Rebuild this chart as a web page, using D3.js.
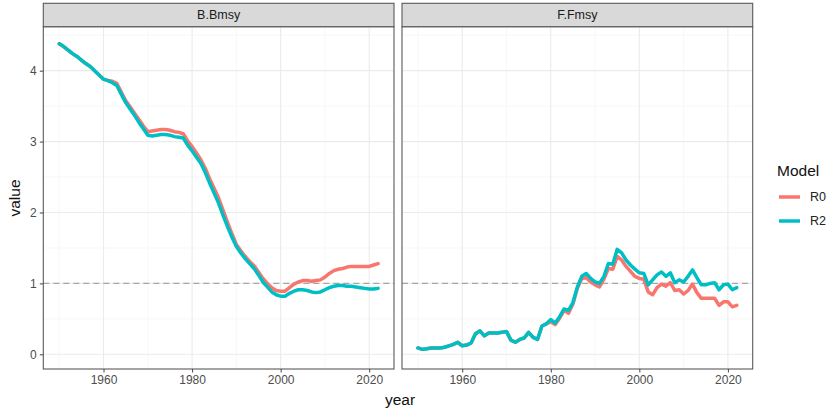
<!DOCTYPE html>
<html>
<head>
<meta charset="utf-8">
<script src="https://cdn.jsdelivr.net/npm/d3@7"></script>
<style>
  html, body { margin: 0; padding: 0; background: #fff; }
  svg { display: block; font-family: "Liberation Sans", Arial, sans-serif; }
</style>
</head>
<body>
<svg id="chart" width="830" height="412"></svg>
<script>
// ---- data -------------------------------------------------------------
const years = d3.range(1950, 2023);
const panels = ["B.Bmsy", "F.Fmsy"];
const models = ["R0", "R2"];
const modelColors = ["#F8766D", "#00BFC4"];
const xTicks = [1960, 1980, 2000, 2020];
const yTicks = [0, 1, 2, 3, 4];
const refLine = 1;

const bBmsyR0 = [
  4.38, 4.34, 4.29, 4.24, 4.20, 4.15, 4.10, 4.06, 4.00, 3.94,
  3.88, 3.86, 3.85, 3.82, 3.70, 3.58, 3.49, 3.40, 3.31, 3.22,
  3.14, 3.15, 3.16, 3.17, 3.17, 3.16, 3.14, 3.13, 3.11, 3.01,
  2.93, 2.84, 2.74, 2.62, 2.47, 2.34, 2.20, 2.03, 1.86, 1.70,
  1.55, 1.46, 1.38, 1.31, 1.25, 1.16, 1.07, 1.00, 0.94, 0.90,
  0.89, 0.89, 0.94, 0.99, 1.02, 1.04, 1.04, 1.03, 1.04, 1.05,
  1.09, 1.14, 1.18, 1.20, 1.21, 1.23, 1.24, 1.24, 1.24, 1.24,
  1.24, 1.26, 1.28
];
const bBmsyR2 = [
  4.38, 4.34, 4.29, 4.24, 4.20, 4.15, 4.10, 4.06, 4.00, 3.94,
  3.88, 3.86, 3.83, 3.79, 3.67, 3.55, 3.46, 3.37, 3.27, 3.18,
  3.09, 3.08, 3.09, 3.10, 3.10, 3.09, 3.07, 3.06, 3.05, 2.95,
  2.87, 2.78, 2.69, 2.56, 2.41, 2.27, 2.13, 1.96, 1.80, 1.65,
  1.52, 1.43, 1.35, 1.28, 1.21, 1.12, 1.02, 0.95, 0.88, 0.84,
  0.82, 0.82, 0.86, 0.89, 0.91, 0.91, 0.90, 0.88, 0.87, 0.88,
  0.91, 0.94, 0.96, 0.97, 0.97, 0.96, 0.96, 0.95, 0.94, 0.93,
  0.92, 0.92, 0.93
];
const fFmsyR0 = [
  0.09, 0.07, 0.08, 0.09, 0.09, 0.09, 0.10, 0.12, 0.14, 0.17,
  0.12, 0.13, 0.16, 0.29, 0.33, 0.26, 0.30, 0.30, 0.30, 0.31,
  0.32, 0.20, 0.17, 0.21, 0.23, 0.31, 0.24, 0.21, 0.40, 0.43,
  0.46, 0.42, 0.51, 0.62, 0.58, 0.71, 0.93, 1.07, 1.08, 1.02,
  0.98, 0.95, 1.06, 1.21, 1.20, 1.38, 1.33, 1.24, 1.17, 1.10,
  1.07, 1.06, 0.88, 0.84, 0.94, 0.99, 0.96, 1.01, 0.90, 0.91,
  0.85, 0.90, 0.99, 0.87, 0.79, 0.79, 0.79, 0.79, 0.69, 0.74,
  0.74, 0.67, 0.69
];
const fFmsyR2 = [
  0.09, 0.07, 0.08, 0.09, 0.09, 0.09, 0.10, 0.12, 0.14, 0.17,
  0.12, 0.13, 0.16, 0.29, 0.33, 0.26, 0.30, 0.30, 0.30, 0.31,
  0.32, 0.20, 0.17, 0.21, 0.23, 0.31, 0.24, 0.21, 0.40, 0.43,
  0.49, 0.44, 0.53, 0.64, 0.62, 0.73, 0.95, 1.10, 1.14, 1.07,
  1.02, 1.00, 1.10, 1.28, 1.27, 1.48, 1.43, 1.33, 1.26, 1.20,
  1.15, 1.14, 0.98, 1.05, 1.12, 1.16, 1.10, 1.15, 1.01, 1.05,
  1.02, 1.10, 1.19, 1.08, 0.98, 0.98, 1.00, 1.01, 0.91, 0.98,
  0.99, 0.91, 0.94
];
const panelSeries = [[bBmsyR0, bBmsyR2], [fFmsyR0, fFmsyR2]];

// ---- layout -----------------------------------------------------------
const svg = d3.select("#chart");
const panelLeft = [43.3, 402];
const panelWidth = 350.7;
const stripTop = 3.3, stripBottom = 26.7, plotBottom = 369;

const y = d3.scaleLinear().domain([-0.207, 4.62]).range([plotBottom, stripBottom]);
const yMinor = [0.5, 1.5, 2.5, 3.5, 4.5];
const xMinor = [1950, 1970, 1990, 2010];

panels.forEach((name, p) => {
  const x0 = panelLeft[p];
  const x = d3.scaleLinear().domain([1946.4, 2025.6]).range([x0, x0 + panelWidth]);
  const g = svg.append("g");

  // grid
  g.selectAll(".ymin").data(yMinor).join("line")
    .attr("x1", x0).attr("x2", x0 + panelWidth)
    .attr("y1", d => y(d)).attr("y2", d => y(d))
    .attr("stroke", "#f2f2f2").attr("stroke-width", 0.6);
  g.selectAll(".xmin").data(xMinor).join("line")
    .attr("x1", d => x(d)).attr("x2", d => x(d))
    .attr("y1", stripBottom).attr("y2", plotBottom)
    .attr("stroke", "#f2f2f2").attr("stroke-width", 0.6);
  g.selectAll(".ymaj").data(yTicks).join("line")
    .attr("x1", x0).attr("x2", x0 + panelWidth)
    .attr("y1", d => y(d)).attr("y2", d => y(d))
    .attr("stroke", "#ebebeb").attr("stroke-width", 1.1);
  g.selectAll(".xmaj").data(xTicks).join("line")
    .attr("x1", d => x(d)).attr("x2", d => x(d))
    .attr("y1", stripBottom).attr("y2", plotBottom)
    .attr("stroke", "#ebebeb").attr("stroke-width", 1.1);

  // reference line
  g.append("line")
    .attr("x1", x0).attr("x2", x0 + panelWidth)
    .attr("y1", y(refLine)).attr("y2", y(refLine))
    .attr("stroke", "#a6a6a6").attr("stroke-width", 1.1)
    .attr("stroke-dasharray", "6,4");

  // series
  const line = d3.line().x((d, i) => x(years[i])).y(d => y(d));
  panelSeries[p].forEach((vals, m) => {
    g.append("path").attr("d", line(vals))
      .attr("fill", "none").attr("stroke", modelColors[m])
      .attr("stroke-width", 3.5).attr("stroke-linejoin", "round")
      .attr("stroke-linecap", "round");
  });

  // panel border
  g.append("rect").attr("x", x0).attr("y", stripBottom)
    .attr("width", panelWidth).attr("height", plotBottom - stripBottom)
    .attr("fill", "none").attr("stroke", "#5a5a5a").attr("stroke-width", 1.1);

  // strip
  g.append("rect").attr("x", x0).attr("y", stripTop)
    .attr("width", panelWidth).attr("height", stripBottom - stripTop)
    .attr("fill", "#d9d9d9").attr("stroke", "#5a5a5a").attr("stroke-width", 1.1);
  g.append("text").attr("x", x0 + panelWidth / 2).attr("y", (stripTop + stripBottom) / 2)
    .attr("text-anchor", "middle").attr("dominant-baseline", "central")
    .attr("font-size", 12.5).attr("fill", "#1a1a1a").text(name);

  // x axis
  const xAxis = d3.axisBottom(x).tickValues(xTicks).tickSize(3.5).tickPadding(3).tickFormat(d3.format("d"));
  const ax = g.append("g").attr("transform", `translate(0,${plotBottom})`).call(xAxis);
  ax.select(".domain").remove();
  ax.selectAll("line").attr("stroke", "#444");
  ax.selectAll("text").attr("font-size", 12).attr("fill", "#4d4d4d")
    .attr("font-family", "Liberation Sans, Arial, sans-serif");
});

// y axis (left panel only)
const yAxis = d3.axisLeft(y).tickValues(yTicks).tickSize(3.5).tickPadding(3).tickFormat(d3.format("d"));
const ay = svg.append("g").attr("transform", `translate(${panelLeft[0]},0)`).call(yAxis);
ay.select(".domain").remove();
ay.selectAll("line").attr("stroke", "#444");
ay.selectAll("text").attr("font-size", 12).attr("fill", "#4d4d4d")
  .attr("font-family", "Liberation Sans, Arial, sans-serif");

// axis titles
svg.append("text").attr("x", 400).attr("y", 405).attr("text-anchor", "middle")
  .attr("font-size", 15.5).attr("fill", "#111").text("year");
svg.append("text").attr("transform", "translate(20,198) rotate(-90)")
  .attr("text-anchor", "middle").attr("font-size", 15.5).attr("fill", "#111").text("value");

// legend
const lg = svg.append("g");
lg.append("text").attr("x", 777).attr("y", 176).attr("font-size", 15.5)
  .attr("fill", "#111").text("Model");
models.forEach((m, i) => {
  const ly = 197 + i * 24;
  lg.append("line").attr("x1", 779).attr("x2", 800).attr("y1", ly).attr("y2", ly)
    .attr("stroke", modelColors[i]).attr("stroke-width", 3.5);
  lg.append("text").attr("x", 810).attr("y", ly).attr("dominant-baseline", "central")
    .attr("font-size", 12.5).attr("fill", "#222").text(m);
});
</script>
</body>
</html>
